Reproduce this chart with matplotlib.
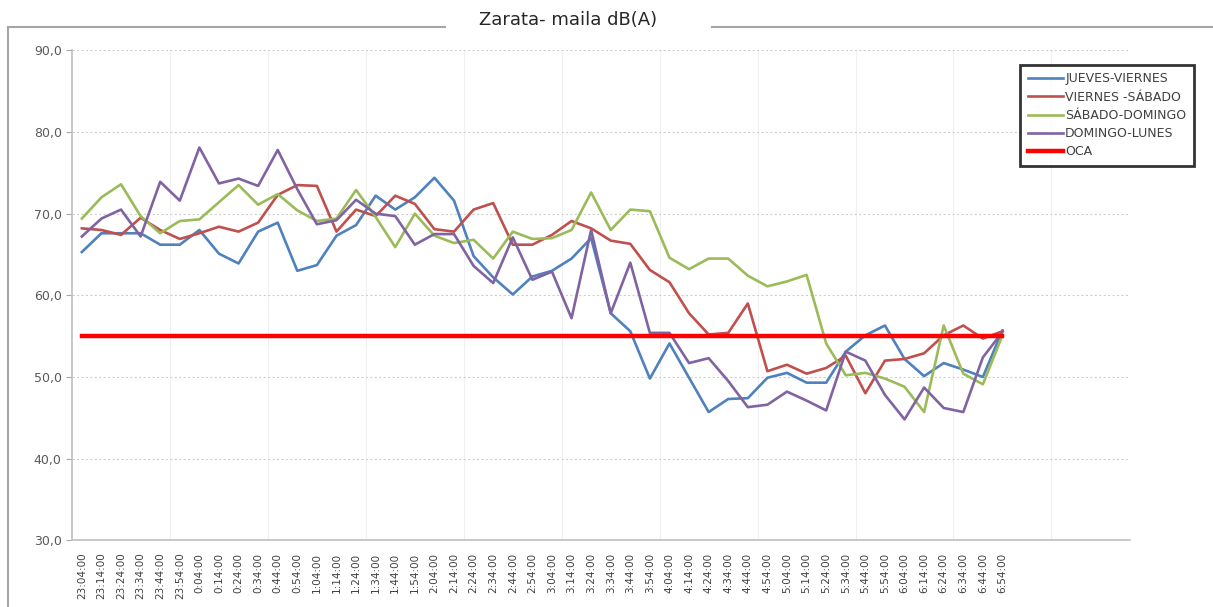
import matplotlib.pyplot as plt
from matplotlib.lines import Line2D
from matplotlib.ticker import FuncFormatter

# Time labels (10 min steps) and noise levels dB(A)
times = ["23:04:00", "23:14:00", "23:24:00", "23:34:00", "23:44:00", "23:54:00",
         "0:04:00", "0:14:00", "0:24:00", "0:34:00", "0:44:00", "0:54:00",
         "1:04:00", "1:14:00", "1:24:00", "1:34:00", "1:44:00", "1:54:00",
         "2:04:00", "2:14:00", "2:24:00", "2:34:00", "2:44:00", "2:54:00",
         "3:04:00", "3:14:00", "3:24:00", "3:34:00", "3:44:00", "3:54:00",
         "4:04:00", "4:14:00", "4:24:00", "4:34:00", "4:44:00", "4:54:00",
         "5:04:00", "5:14:00", "5:24:00", "5:34:00", "5:44:00", "5:54:00",
         "6:04:00", "6:14:00", "6:24:00", "6:34:00", "6:44:00", "6:54:00"]

jueves_viernes = [65.3, 67.6, 67.6, 67.6, 66.2, 66.2, 68.0, 65.1, 63.9, 67.8, 68.9, 63.0,
                  63.7, 67.3, 68.6, 72.2, 70.5, 72.0, 74.4, 71.6, 64.8, 62.2, 60.1, 62.3,
                  63.0, 64.5, 67.0, 57.8, 55.6, 49.8, 54.1, 49.9, 45.7, 47.3, 47.4, 49.9,
                  50.5, 49.3, 49.3, 53.1, 55.1, 56.3, 52.2, 50.1, 51.7, 50.9, 50.0, 55.7]
viernes_sabado = [68.2, 68.0, 67.4, 69.5, 68.0, 66.9, 67.6, 68.4, 67.8, 68.9, 72.3, 73.5,
                  73.4, 67.8, 70.5, 69.7, 72.2, 71.2, 68.1, 67.8, 70.5, 71.3, 66.2, 66.2,
                  67.4, 69.1, 68.2, 66.7, 66.3, 63.1, 61.6, 57.8, 55.2, 55.4, 59.0, 50.7,
                  51.5, 50.4, 51.1, 52.6, 48.0, 52.0, 52.2, 52.9, 55.1, 56.3, 54.7, 55.6]
sabado_domingo = [69.4, 72.0, 73.6, 69.7, 67.6, 69.1, 69.3, 71.4, 73.5, 71.1, 72.4, 70.4,
                  69.1, 69.4, 72.9, 69.6, 65.9, 70.0, 67.3, 66.4, 66.8, 64.5, 67.8, 66.9,
                  67.0, 68.0, 72.6, 68.0, 70.5, 70.3, 64.6, 63.2, 64.5, 64.5, 62.4, 61.1,
                  61.7, 62.5, 54.1, 50.2, 50.5, 49.8, 48.8, 45.7, 56.3, 50.4, 49.1, 55.1]
domingo_lunes = [67.2, 69.4, 70.5, 67.2, 73.9, 71.6, 78.1, 73.7, 74.3, 73.4, 77.8, 73.0,
                 68.7, 69.2, 71.7, 70.0, 69.7, 66.2, 67.5, 67.5, 63.6, 61.5, 67.1, 61.9,
                 62.9, 57.2, 68.0, 57.8, 64.0, 55.4, 55.4, 51.7, 52.3, 49.5, 46.3, 46.6,
                 48.2, 47.1, 45.9, 53.1, 52.0, 47.8, 44.8, 48.7, 46.2, 45.7, 52.4, 55.5]
oca = [55.0] * len(times)

series = [
    ("JUEVES-VIERNES", jueves_viernes, "#4F81BD", 1.9),
    ("VIERNES -SÁBADO", viernes_sabado, "#C0504D", 1.9),
    ("SÁBADO-DOMINGO", sabado_domingo, "#9BBB59", 1.9),
    ("DOMINGO-LUNES", domingo_lunes, "#8064A2", 1.9),
    ("OCA", oca, "#FF0000", 3.2),
]

fig = plt.figure(figsize=(12.13, 6.07), dpi=100)
ax = fig.add_axes([0.0594, 0.110, 0.872, 0.807])

x = list(range(len(times)))
for name, vals, color, lw in series:
    ax.plot(x, vals, color=color, linewidth=lw, label=name, solid_joinstyle="round")

# axis setup (54 category slots, only 48 with data)
ax.set_xlim(-0.5, 53.5)
ax.set_ylim(30, 90)
ax.set_yticks(range(30, 91, 10))
ax.yaxis.set_major_formatter(FuncFormatter(lambda v, p: f"{v:.1f}".replace(".", ",")))
ax.set_xticks(x)
ax.set_xticklabels(times, rotation=90, fontsize=7.5, color="#404040")
ax.set_xticks([i + 0.5 for i in range(4, 54, 5)], minor=True)
ax.tick_params(axis="x", which="both", length=0, pad=9)
ax.tick_params(axis="y", labelsize=9, labelcolor="#595959", color="#A6A6A6", length=4)

ax.grid(axis="y", color="#D0D0D0", linestyle=(0, (2, 2)), linewidth=0.8)
ax.grid(axis="x", which="minor", color="#F0F0F0", linewidth=0.8)
ax.set_axisbelow(True)
for s in ["top", "right"]:
    ax.spines[s].set_visible(False)
for s in ["left", "bottom"]:
    ax.spines[s].set_color("#BFBFBF")
    ax.spines[s].set_linewidth(1.2)

leg = ax.legend(loc="upper left", bbox_to_anchor=(0.841, 0.893), bbox_transform=fig.transFigure,
                borderaxespad=0, fontsize=9, frameon=True, fancybox=False, handlelength=2.8,
                handletextpad=0.2, borderpad=0.6, labelspacing=0.42)
leg.get_frame().set_edgecolor("black")
leg.get_frame().set_linewidth(2)
for t in leg.get_texts():
    t.set_color("#404040")

# title with outer frame
fig.text(0.468, 0.967, "Zarata- maila dB(A)", ha="center", va="center", fontsize=13, color="#262626")
frame_y = 1 - 27 / 607
fig.add_artist(Line2D([8 / 1213, 445 / 1213], [frame_y, frame_y], color="#A6A6A6", lw=1.5))
fig.add_artist(Line2D([712 / 1213, 1.0], [frame_y, frame_y], color="#A6A6A6", lw=1.5))
fig.add_artist(Line2D([8 / 1213, 8 / 1213], [0, frame_y], color="#A6A6A6", lw=1.5))

fig.savefig("out.png", dpi=100)
